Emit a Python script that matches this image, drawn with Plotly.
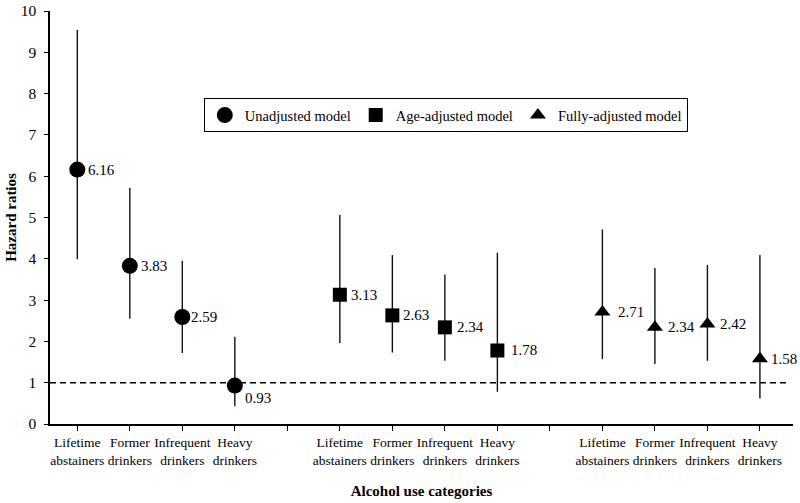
import plotly.graph_objects as go

# ---- data ----
categories = ["Lifetime<br>abstainers", "Former<br>drinkers",
              "Infrequent<br>drinkers", "Heavy<br>drinkers"]
models = ["Unadjusted model", "Age-adjusted model", "Fully-adjusted model"]

unadj_hr = [6.16, 3.83, 2.59, 0.93]
unadj_lo = [3.99, 2.55, 1.72, 0.43]
unadj_hi = [9.54, 5.72, 3.95, 2.11]

age_hr = [3.13, 2.63, 2.34, 1.78]
age_lo = [1.96, 1.73, 1.53, 0.78]
age_hi = [5.06, 4.09, 3.62, 4.15]

full_hr = [2.71, 2.34, 2.42, 1.58]
full_lo = [1.57, 1.45, 1.53, 0.62]
full_hi = [4.71, 3.78, 3.85, 4.09]

reference_hr = 1.0

# ---- styling ----
FONT = "Liberation Serif"
symbols = ["circle", "square", "triangle-up"]
msizes = [16, 14, 14]
label_dx = [[9, 9, 7, 8], [9, 9, 10, 12], [14, 11, 11, 9]]
label_dy = [[0, 0, 0, -12], [0, 0, 0, 0], [0, 0, 0, 0]]

series = [(unadj_hr, unadj_lo, unadj_hi),
          (age_hr, age_lo, age_hi),
          (full_hr, full_lo, full_hi)]

fig = go.Figure()
annotations = []
tickvals, ticktext = [], []
for g, (hr, lo, hi) in enumerate(series):
    xs = [g * 5 + i for i in range(len(hr))]
    fig.add_trace(go.Scatter(
        x=xs, y=hr, mode="markers", name=models[g],
        marker=dict(symbol=symbols[g], size=msizes[g], color="black"),
        error_y=dict(type="data", symmetric=False,
                     array=[h - v for h, v in zip(hi, hr)],
                     arrayminus=[v - l for v, l in zip(hr, lo)],
                     width=0, thickness=1.4, color="#111111"),
        showlegend=True,
    ))
    for i, (x, v) in enumerate(zip(xs, hr)):
        annotations.append(dict(
            x=x, y=v, xref="x", yref="y", text=f"{v:.2f}", showarrow=False,
            xanchor="left", yanchor="middle",
            xshift=label_dx[g][i], yshift=label_dy[g][i],
            font=dict(family=FONT, size=15, color="black")))
    tickvals += xs
    ticktext += categories
    if g < len(series) - 1:
        tickvals.append(g * 5 + 4)
        ticktext.append("")

fig.add_shape(type="line", xref="x", yref="y", x0=-0.52, x1=13.52,
              y0=reference_hr, y1=reference_hr,
              line=dict(color="black", width=1.5, dash="6px,4px"))

fig.update_layout(
    width=800, height=503,
    margin=dict(l=50, r=7, t=11, b=79),
    plot_bgcolor="white", paper_bgcolor="white",
    font=dict(family=FONT, color="black"),
    annotations=annotations,
    legend=dict(orientation="h", x=0.207, y=0.789, xanchor="left", yanchor="top",
                bordercolor="black", borderwidth=1, bgcolor="white",
                font=dict(family=FONT, size=14.5, color="black"),
                itemwidth=30),
    xaxis=dict(range=[-0.52, 13.63], tickvals=tickvals, ticktext=ticktext,
               automargin=False, ticklabeloverflow="allow",
               showline=True, linecolor="black", linewidth=1.5,
               ticks="outside", ticklen=5, tickwidth=1.2, tickcolor="black",
               showgrid=False, zeroline=False,
               tickfont=dict(family=FONT, size=13.5, color="black"),
               title=dict(text="<b>Alcohol use categories</b>", standoff=19,
                          font=dict(family=FONT, size=15, color="black"))),
    yaxis=dict(range=[0, 10], dtick=1, tick0=0, automargin=False,
               ticklabeloverflow="allow", ticklabelstandoff=5,
               showline=True, linecolor="black", linewidth=1.5,
               ticks="outside", ticklen=4, tickwidth=1.2, tickcolor="black",
               showgrid=False, zeroline=False,
               tickfont=dict(family=FONT, size=15.5, color="black"),
               title=dict(text="<b>Hazard ratios</b>", standoff=0,
                          font=dict(family=FONT, size=15, color="black"))),
)

# remove the default page margin so the figure fills the window exactly
fig.write_html("out.html",
               config={"displayModeBar": False},
               post_script="document.body.style.margin='0';"
                           "document.body.style.overflow='hidden';")
